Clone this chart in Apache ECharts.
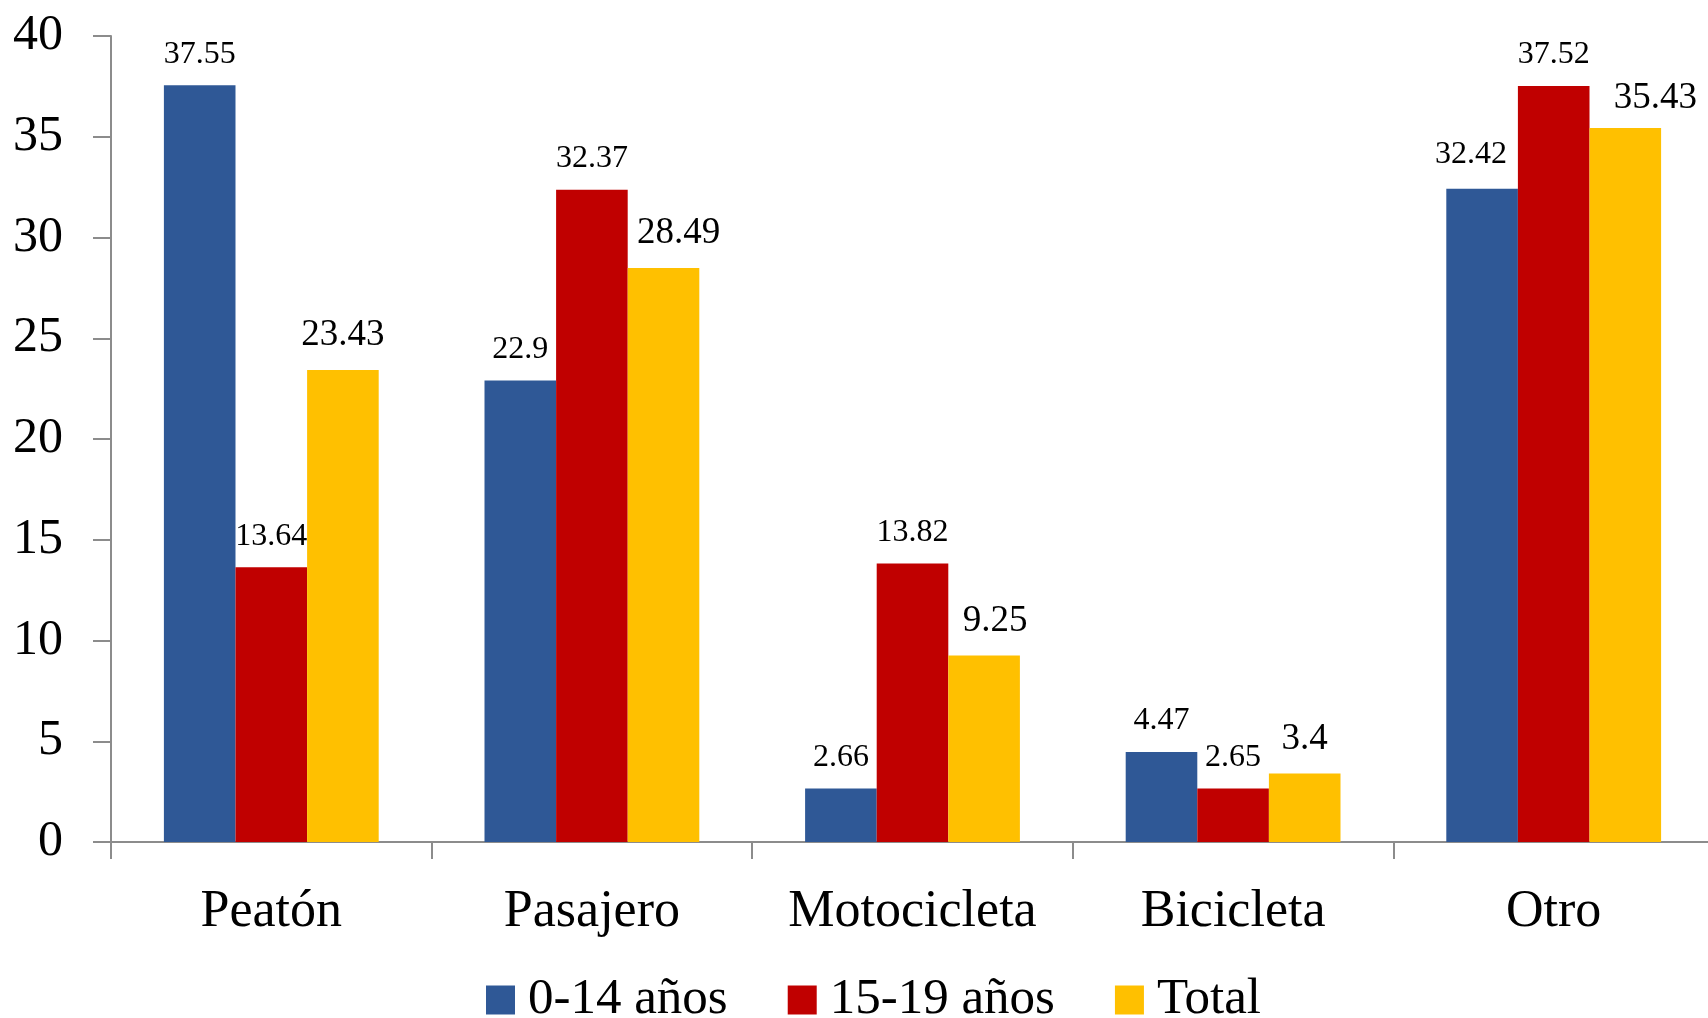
<!DOCTYPE html>
<html>
<head>
<meta charset="utf-8">
<script src="https://cdn.jsdelivr.net/npm/echarts@6/dist/echarts.min.js"></script>
<style>
html,body{margin:0;padding:0;background:#fff;overflow:hidden;}
#chart{width:1724px;height:1018px;}
</style>
</head>
<body>
<div id="chart"></div>
<script>
const categories = ["Peatón", "Pasajero", "Motocicleta", "Bicicleta", "Otro"];
const seriesNames = ["0-14 años", "15-19 años", "Total"];
const valuesAge0to14 = [37.55, 22.9, 2.66, 4.47, 32.42];
const valuesAge15to19 = [13.64, 32.37, 13.82, 2.65, 37.52];
const valuesTotal = [23.43, 28.49, 9.25, 3.4, 35.43];
const yTicks = {min: 0, max: 40, interval: 5};

const FONT = '"Liberation Serif", "DejaVu Serif", serif';
const colors = ["#2F5896", "#C00000", "#FFC000"];

// manual label nudges (style only), per series index -> category index -> [dx, dy]
const labelNudges = [
  {4: [-11, -3]},
  {},
  {1: [15, 0], 2: [11, 0], 4: [30, 5]}
];

const chart = echarts.init(document.getElementById('chart'), null, {renderer: 'canvas'});

function mkSeries(idx, name, data, color, labelSize, labelDist) {
  return {
    name: name,
    type: 'bar',
    data: data.map(function (v, i) {
      const n = labelNudges[idx][i];
      return n ? {value: v, label: {offset: n}} : v;
    }),
    barGap: '0%',
    barCategoryGap: '33%',
    itemStyle: {color: color},
    label: {
      show: true,
      position: 'top',
      distance: labelDist,
      fontFamily: FONT,
      fontSize: labelSize,
      color: '#000'
    }
  };
}

chart.setOption({
  animation: false,
  textStyle: {fontFamily: FONT},
  grid: {left: 111, width: 1603, top: 36, bottom: 176, containLabel: false},
  legend: {
    top: 973,
    left: 486,
    padding: 0,
    itemWidth: 29,
    itemHeight: 29,
    itemGap: 60,
    icon: 'rect',
    textStyle: {fontFamily: FONT, fontSize: 51, lineHeight: 54, color: '#000', padding: [0, 0, 0, 8]},
    data: seriesNames
  },
  xAxis: {
    type: 'category',
    data: categories,
    axisLine: {lineStyle: {color: '#8c8c8c', width: 2}},
    axisTick: {show: true, length: 17, lineStyle: {color: '#8c8c8c', width: 2}},
    axisLabel: {fontFamily: FONT, fontSize: 52, color: '#000', margin: 44, interval: 0}
  },
  yAxis: {
    type: 'value',
    min: yTicks.min,
    max: yTicks.max,
    interval: yTicks.interval,
    splitLine: {show: false},
    axisLine: {show: true, lineStyle: {color: '#8c8c8c', width: 2}},
    axisTick: {show: true, length: 18, lineStyle: {color: '#8c8c8c', width: 2}},
    axisLabel: {fontFamily: FONT, fontSize: 50, color: '#000', margin: 48}
  },
  series: [
    mkSeries(0, seriesNames[0], valuesAge0to14, colors[0], 32, 15),
    mkSeries(1, seriesNames[1], valuesAge15to19, colors[1], 32, 15),
    mkSeries(2, seriesNames[2], valuesTotal, colors[2], 37, 16)
  ]
});
</script>
</body>
</html>
